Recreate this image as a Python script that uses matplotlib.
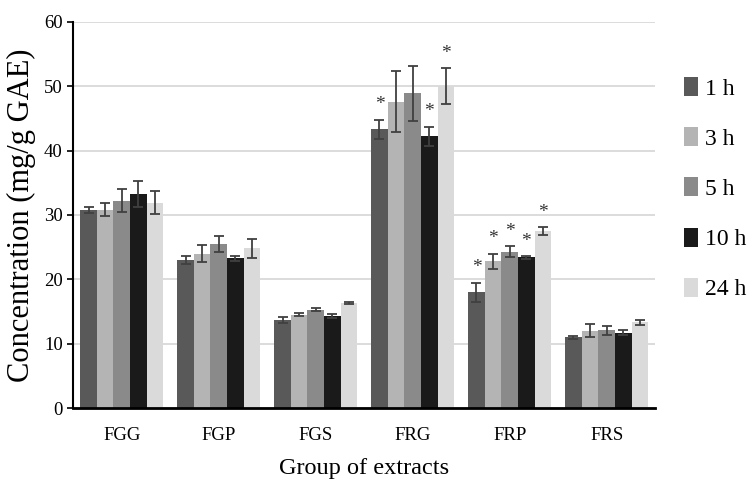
import numpy as np
import matplotlib
matplotlib.use("Agg")
import matplotlib.pyplot as plt

plt.rcParams['font.family'] = ['Liberation Serif', 'DejaVu Serif']

# --- dados ---
groups = ['FGG', 'FGP', 'FGS', 'FRG', 'FRP', 'FRS']
times = ['1 h', '3 h', '5 h', '10 h', '24 h']
colors = ['#595959', '#b4b4b4', '#8a8a8a', '#1a1a1a', '#dadada']

means = [
    [30.8, 23.0, 13.7, 43.3, 18.0, 11.0],   # 1 h
    [30.8, 24.0, 14.5, 47.6, 22.8, 12.0],   # 3 h
    [32.2, 25.5, 15.3, 48.9, 24.3, 12.1],   # 5 h
    [33.2, 23.3, 14.3, 42.2, 23.4, 11.7],   # 10 h
    [31.9, 24.8, 16.3, 50.0, 27.5, 13.3],   # 24 h
]
errors = [
    [0.5, 0.6, 0.5, 1.5, 1.5, 0.2],
    [1.0, 1.3, 0.2, 4.7, 1.2, 1.0],
    [1.8, 1.3, 0.3, 4.3, 0.8, 0.7],
    [2.0, 0.4, 0.3, 1.5, 0.2, 0.4],
    [1.8, 1.5, 0.2, 2.8, 0.6, 0.4],
]
# (grupo, tempo) com diferença significativa
stars = [(3, 0), (3, 3), (3, 4), (4, 0), (4, 1), (4, 2), (4, 3), (4, 4)]

fig = plt.figure(figsize=(7.47, 4.97), dpi=100)
ax = fig.add_axes([0.098, 0.179, 0.779, 0.777])

x = np.arange(len(groups))
w = 0.171
for i, t in enumerate(times):
    pos = x + (i - 2) * w
    ax.bar(pos, means[i], w, color=colors[i], label=t, zorder=2)
    ax.errorbar(pos, means[i], yerr=errors[i], fmt='none', ecolor='#404040',
                elinewidth=1.3, capsize=3.6, capthick=1.3, zorder=3)

for g, i in stars:
    xp = x[g] + (i - 2) * w
    top = means[i][g] + errors[i][g]
    ax.text(xp, top + 1.6, '*', ha='center', va='baseline', fontsize=14, color='#333333')

ax.set_xlim(-0.5, len(groups) - 0.5)
ax.set_ylim(0, 60)
ax.set_yticks(range(0, 61, 10))
ax.set_xticks(x)
ax.set_xticklabels(groups)
ax.tick_params(axis='x', length=0, pad=14, labelsize=13.5)
ax.tick_params(axis='y', length=4, width=1.2, labelsize=13.5, direction='out')
ax.yaxis.grid(True, color='#d9d9d9', linewidth=1.3, zorder=0)
ax.set_axisbelow(True)
for s in ['top', 'right']:
    ax.spines[s].set_visible(False)
ax.spines['left'].set_linewidth(1.5)
ax.spines['bottom'].set_linewidth(2)

ax.set_ylabel('Concentration (mg/g GAE)', fontsize=22, labelpad=6)
ax.set_xlabel('Group of extracts', fontsize=17.5, labelpad=10)

fig.legend(loc='upper left', bbox_to_anchor=(0.915, 0.845), frameon=False,
           fontsize=17, handlelength=0.6, handleheight=0.85, handletextpad=0.3,
           labelspacing=1.17, borderpad=0, borderaxespad=0)

fig.savefig('out.png', dpi=100)
